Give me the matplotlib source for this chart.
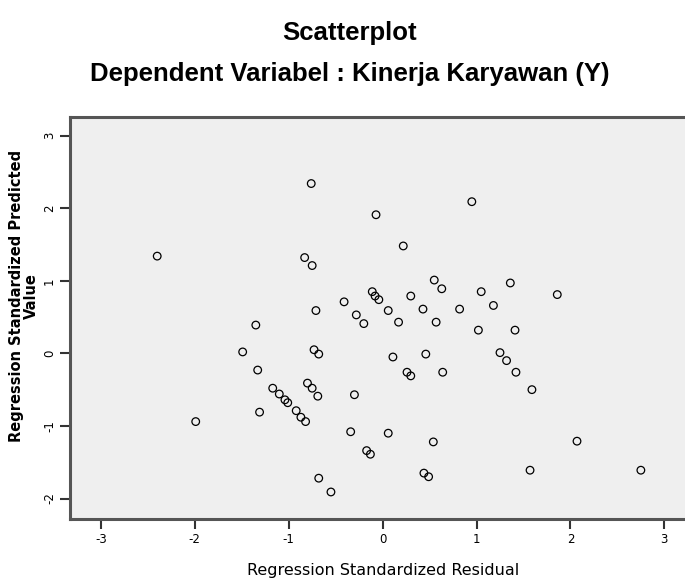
import matplotlib
matplotlib.use('Agg')
import matplotlib.pyplot as plt
import numpy as np

# regression standardized residual (x) and predicted value (y)
resid = [-2.40, -0.76, -0.07, 0.95, 0.22, -0.83, -0.75, -1.35, -0.71, -0.41,
         -0.11, -0.08, -0.04, -0.28, -0.20, 0.06, 0.30, 0.43, 0.17, 0.57,
         0.55, 0.63, 0.82, 1.05, 1.18, 1.36, 1.86, 1.02, 1.41, -1.49,
         -0.73, -0.68, 0.11, 0.46, 1.25, 1.32, 1.42, 0.26, 0.30, 0.64,
         1.59, -1.33, -0.30, -1.17, -1.10, -1.04, -1.01, -0.92, -0.87, -0.82,
         -0.80, -0.75, -0.69, -1.31, -1.99, -0.34, 0.06, 0.54, -0.17, -0.13,
         0.44, 0.49, 1.57, 2.07, 2.75, -0.68, -0.55]
pred = [1.34, 2.34, 1.91, 2.09, 1.48, 1.32, 1.21, 0.39, 0.59, 0.71,
        0.85, 0.79, 0.74, 0.53, 0.41, 0.59, 0.79, 0.61, 0.43, 0.43,
        1.01, 0.89, 0.61, 0.85, 0.66, 0.97, 0.81, 0.32, 0.32, 0.02,
        0.05, -0.01, -0.05, -0.01, 0.01, -0.10, -0.26, -0.26, -0.31, -0.26,
        -0.50, -0.23, -0.57, -0.48, -0.56, -0.64, -0.68, -0.79, -0.88, -0.94,
        -0.41, -0.48, -0.59, -0.81, -0.94, -1.08, -1.10, -1.22, -1.34, -1.39,
        -1.65, -1.70, -1.61, -1.21, -1.61, -1.72, -1.91]

xticks = [-3, -2, -1, 0, 1, 2, 3]
yticks = [-2, -1, 0, 1, 2, 3]

fig = plt.figure(figsize=(6.85, 5.81), dpi=100)
ax = fig.add_axes([0.102, 0.107, 0.898, 0.692])
ax.set_facecolor('#efefef')

ax.scatter(resid, pred, s=30, facecolors='none', edgecolors='black',
           linewidths=0.9)

ax.set_xlim(-3.33, 3.22)
ax.set_ylim(-2.28, 3.26)
ax.set_xticks(xticks)
ax.set_yticks(yticks)
ax.set_xticklabels([str(t) for t in xticks], fontsize=8.5)
ax.set_yticklabels([str(t) for t in yticks], fontsize=8.5, rotation=90,
                   va='center')
ax.tick_params(direction='out', length=7, width=1.5, color='#333333', pad=3)

for side in ['left', 'bottom', 'top']:
    ax.spines[side].set_linewidth(2.2)
    ax.spines[side].set_color('#555555')
ax.spines['right'].set_visible(False)

ax.set_xlabel('Regression Standardized Residual', fontsize=11.5, va='center')
ax.xaxis.set_label_coords(0.51, -0.128)
ax.set_ylabel('Regression Standardized Predicted\nValue', fontsize=10.5,
              fontweight='bold', linespacing=1.0, va='center')
ax.yaxis.set_label_coords(-0.074, 0.555)

fig.text(0.51, 0.943, 'Scatterplot', ha='center', va='center',
         fontsize=18.5, fontweight='bold', family='Liberation Sans')
fig.text(0.51, 0.873, 'Dependent Variabel : Kinerja Karyawan (Y)',
         ha='center', va='center', fontsize=18.5, fontweight='bold',
         family='Liberation Sans')

plt.savefig('out.png', dpi=100)
